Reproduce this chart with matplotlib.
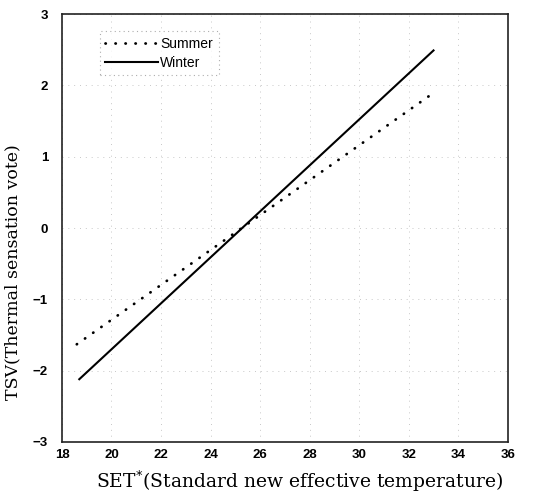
import matplotlib
matplotlib.use("Agg")
import matplotlib.pyplot as plt

# Data: regression lines (endpoints)
series = ["Summer", "Winter"]
x_start = [18.6, 18.7]
x_end = [32.9, 33.0]
y_start = [-1.63, -2.12]
y_end = [1.87, 2.49]

x_ticks = [18, 20, 22, 24, 26, 28, 30, 32, 34, 36]
y_ticks = [-3, -2, -1, 0, 1, 2, 3]
x_tick_labels = ["18", "20", "22", "24", "26", "28", "30", "32", "34", "36"]
y_tick_labels = ["\u22123", "\u22122", "\u22121", "0", "1", "2", "3"]

fig = plt.figure(figsize=(5.34, 4.97), dpi=100)
ax = fig.add_axes([0.116, 0.1107, 0.835, 0.861])

styles = {
    "Summer": dict(color="black", linestyle=(0, (0.1, 3.5)), linewidth=2.0, dash_capstyle="round"),
    "Winter": dict(color="black", linestyle="-", linewidth=1.5),
}
for name, x0, x1, y0, y1 in zip(series, x_start, x_end, y_start, y_end):
    ax.plot([x0, x1], [y0, y1], label=name, **styles[name])

ax.set_xlim(18, 36)
ax.set_ylim(-3, 3)
ax.set_xticks(x_ticks)
ax.set_xticklabels(x_tick_labels)
ax.set_yticks(y_ticks)
ax.set_yticklabels(y_tick_labels)
ax.grid(True, color="#c8c8c8", linestyle=(0, (1, 5)), linewidth=0.7)
ax.tick_params(axis="x", length=0, pad=5, labelsize=9.5)
ax.tick_params(axis="y", length=0, pad=10, labelsize=9.5)
for lab in ax.get_xticklabels() + ax.get_yticklabels():
    lab.set_fontfamily("Liberation Sans")
    lab.set_fontweight("bold")
for s in ax.spines.values():
    s.set_linewidth(1.2)
    s.set_color("#222222")

ax.set_xlabel("SET$^{*}$(Standard new effective temperature)", family="DejaVu Serif", fontsize=13.5)
ax.set_ylabel("TSV(Thermal sensation vote)", family="DejaVu Serif", fontsize=12.5)
ax.xaxis.set_label_coords(0.534, -0.063)
ax.yaxis.set_label_coords(-0.092, 0.397)

leg = ax.legend(loc="upper left", bbox_to_anchor=(0.085, 0.96), frameon=True, fancybox=False,
                prop={"family": "Liberation Sans", "size": 10}, handlelength=3.8, handletextpad=0.15,
                borderpad=0.4, labelspacing=0.35, borderaxespad=0)
leg.get_frame().set_edgecolor("#999999")
leg.get_frame().set_linestyle((0, (1, 3)))
leg.get_frame().set_linewidth(0.8)

fig.savefig("out.png", dpi=100)
